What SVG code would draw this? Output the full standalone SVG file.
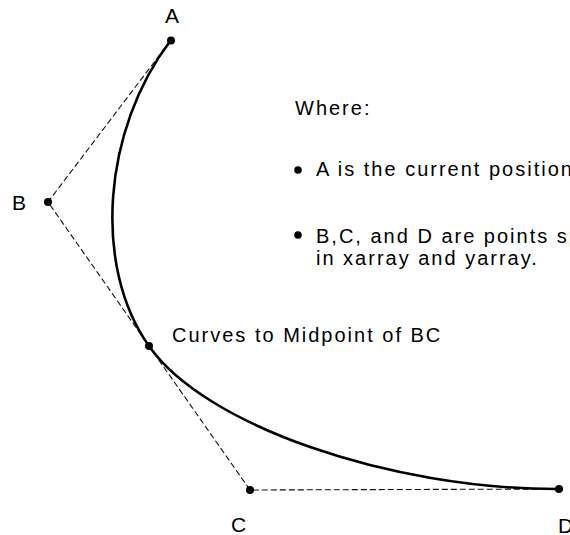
<svg xmlns="http://www.w3.org/2000/svg" width="570" height="535" viewBox="0 0 570 535">
<style>
.dash{fill:none;stroke:#111;stroke-width:1.1;stroke-dasharray:6 3}
.curve{fill:none;stroke:#000;stroke-width:2.6;stroke-linecap:round}
.pt{fill:#000}
.lbl{font-family:"Liberation Sans",Arial,sans-serif;font-size:21px;fill:#000}
.txt{font-family:"Liberation Sans",Arial,sans-serif;font-size:20px;letter-spacing:2px;fill:#000}
</style>
<rect width="570" height="535" fill="#fff"/>
<g id="connectors">
<path class="dash" d="M171,40 L48,202 L250,490 L559,489"/>
<path class="curve" d="M171,40 C102.5,129.4 92.5,266.5 149,346 C204,425 389,489.6 559,489"/>
</g>
<g id="A"><circle class="pt" cx="171" cy="40.5" r="4"/><text class="lbl" x="172" y="23" text-anchor="middle">A</text></g>
<g id="B"><circle class="pt" cx="48" cy="202" r="4"/><text class="lbl" x="12" y="210">B</text></g>
<g id="M"><circle class="pt" cx="149" cy="346" r="4"/><text class="txt" x="172" y="342">Curves to Midpoint of BC</text></g>
<g id="C"><circle class="pt" cx="250" cy="490" r="4"/><text class="lbl" x="231" y="532">C</text></g>
<g id="D"><circle class="pt" cx="559" cy="489" r="4"/><text class="lbl" x="558" y="533">D</text></g>
<g id="legend">
<text class="txt" x="295" y="115">Where:</text>
<circle class="pt" cx="298" cy="170" r="3.8"/>
<text class="txt" x="316" y="176">A is the current position</text>
<circle class="pt" cx="298" cy="235" r="3.8"/>
<text class="txt" x="316" y="242.5">B,C, and D are points specified</text>
<text class="txt" x="316" y="265">in xarray and yarray.</text>
</g>
</svg>
